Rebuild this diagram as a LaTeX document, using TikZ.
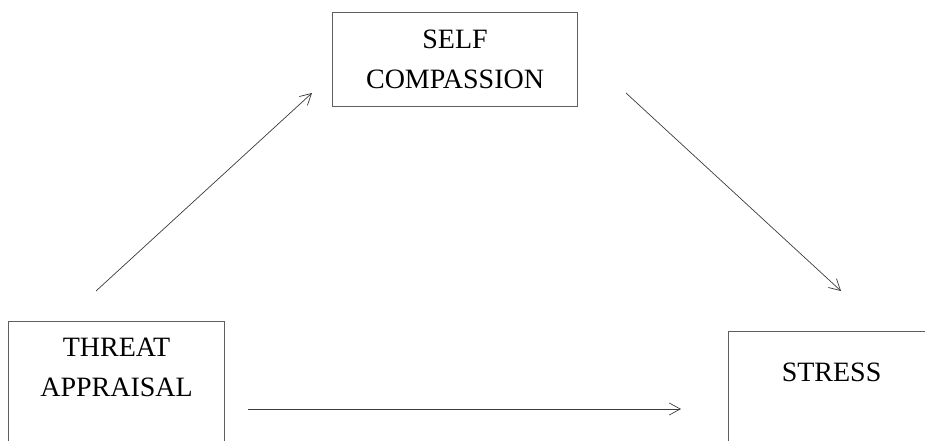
\documentclass[tikz,border=0pt]{standalone}
\usepackage{fontspec}
\setmainfont{Liberation Serif}
\usepackage{tikz}
\usetikzlibrary{arrows.meta, positioning}
\definecolor{boxgray}{RGB}{95,95,95}
\definecolor{arrowgray}{RGB}{60,60,60}

\begin{document}
\begin{tikzpicture}[x=1pt, y=1pt,
        var/.style={rectangle, draw=boxgray, line width=1.1pt, inner sep=0pt},
        lbl/.style={align=center, inner sep=0pt, font=\fontsize{28}{40}\selectfont},
        path/.style={draw=arrowgray, line width=0.7pt, -{Straight Barb[length=11pt, width=12pt]}}]
      \useasboundingbox (0,0) rectangle (925,-440);
      \clip (0,0) rectangle (925,-440);

      % boxes
      \node[var, lbl, minimum width=245pt, minimum height=94pt, anchor=north west] (self) at (332,-12) {SELF\\COMPASSION};
      \node[var, minimum width=216pt, minimum height=150pt, anchor=north west] (threat) at (8,-321) {};
      \node[lbl, anchor=north, below=17pt of threat.north] (threattxt) {THREAT\\APPRAISAL};
      \node[var, minimum width=206pt, minimum height=150pt, anchor=north west] (stress) at (728,-331) {};
      \node[lbl, anchor=north, below=32pt of stress.north] (stresstxt) {STRESS};

      % arrow ends
      \coordinate (a1s) at (96,-291);
      \coordinate (a1e) at (312,-93);
      \coordinate (a2s) at (626,-93);
      \coordinate (a2e) at (841,-291);
      \coordinate (a3s) at (248,-409);
      \coordinate (a3e) at (681,-409);

      \draw[path] (a1s) -- (a1e);
      \draw[path] (a2s) -- (a2e);
      \draw[path] (a3s) -- (a3e);
    \end{tikzpicture}
\end{document}
